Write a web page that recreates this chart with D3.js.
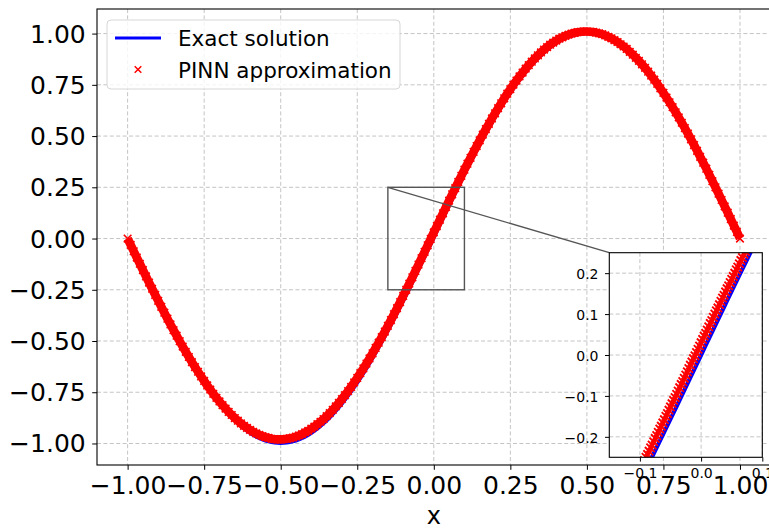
<!DOCTYPE html>
<html>
<head>
<meta charset="utf-8">
<script src="https://cdn.jsdelivr.net/npm/d3@7"></script>
<style>
  html, body { margin: 0; padding: 0; background: #ffffff; }
  svg { display: block; }
</style>
</head>
<body>
<div id="chart"></div>
<script>
// ---------------- DATA ----------------
const exactX = [-1,-0.98,-0.96,-0.94,-0.92,-0.9,-0.88,-0.86,-0.84,-0.82,-0.8,-0.78,-0.76,-0.74,-0.72,-0.7,-0.68,-0.66,-0.64,-0.62,-0.6,-0.58,-0.56,-0.54,-0.52,-0.5,-0.48,-0.46,-0.44,-0.42,-0.4,-0.38,-0.36,-0.34,-0.32,-0.3,-0.28,-0.26,-0.24,-0.22,-0.2,-0.18,-0.16,-0.14,-0.12,-0.1,-0.08,-0.06,-0.04,-0.02,0,0.02,0.04,0.06,0.08,0.1,0.12,0.14,0.16,0.18,0.2,0.22,0.24,0.26,0.28,0.3,0.32,0.34,0.36,0.38,0.4,0.42,0.44,0.46,0.48,0.5,0.52,0.54,0.56,0.58,0.6,0.62,0.64,0.66,0.68,0.7,0.72,0.74,0.76,0.78,0.8,0.82,0.84,0.86,0.88,0.9,0.92,0.94,0.96,0.98,1];
const exactY = [0,-0.0628,-0.1253,-0.1874,-0.2487,-0.3090,-0.3681,-0.4258,-0.4818,-0.5358,-0.5878,-0.6374,-0.6845,-0.7290,-0.7705,-0.8090,-0.8443,-0.8763,-0.9048,-0.9298,-0.9511,-0.9686,-0.9823,-0.9921,-0.9980,-1.0000,-0.9980,-0.9921,-0.9823,-0.9686,-0.9511,-0.9298,-0.9048,-0.8763,-0.8443,-0.8090,-0.7705,-0.7290,-0.6845,-0.6374,-0.5878,-0.5358,-0.4818,-0.4258,-0.3681,-0.3090,-0.2487,-0.1874,-0.1253,-0.0628,0,0.0628,0.1253,0.1874,0.2487,0.3090,0.3681,0.4258,0.4818,0.5358,0.5878,0.6374,0.6845,0.7290,0.7705,0.8090,0.8443,0.8763,0.9048,0.9298,0.9511,0.9686,0.9823,0.9921,0.9980,1.0000,0.9980,0.9921,0.9823,0.9686,0.9511,0.9298,0.9048,0.8763,0.8443,0.8090,0.7705,0.7290,0.6845,0.6374,0.5878,0.5358,0.4818,0.4258,0.3681,0.3090,0.2487,0.1874,0.1253,0.0628,0];

const pinnX = [-1,-0.99,-0.98,-0.97,-0.96,-0.95,-0.94,-0.93,-0.92,-0.91,-0.9,-0.89,-0.88,-0.87,-0.86,-0.85,-0.84,-0.83,-0.82,-0.81,-0.8,-0.79,-0.78,-0.77,-0.76,-0.75,-0.74,-0.73,-0.72,-0.71,-0.7,-0.69,-0.68,-0.67,-0.66,-0.65,-0.64,-0.63,-0.62,-0.61,-0.6,-0.59,-0.58,-0.57,-0.56,-0.55,-0.54,-0.53,-0.52,-0.51,-0.5,-0.49,-0.48,-0.47,-0.46,-0.45,-0.44,-0.43,-0.42,-0.41,-0.4,-0.39,-0.38,-0.37,-0.36,-0.35,-0.34,-0.33,-0.32,-0.31,-0.3,-0.29,-0.28,-0.27,-0.26,-0.25,-0.24,-0.23,-0.22,-0.21,-0.2,-0.19,-0.18,-0.17,-0.16,-0.15,-0.14,-0.13,-0.12,-0.11,-0.1,-0.09,-0.08,-0.07,-0.06,-0.05,-0.04,-0.03,-0.02,-0.01,0,0.01,0.02,0.03,0.04,0.05,0.06,0.07,0.08,0.09,0.1,0.11,0.12,0.13,0.14,0.15,0.16,0.17,0.18,0.19,0.2,0.21,0.22,0.23,0.24,0.25,0.26,0.27,0.28,0.29,0.3,0.31,0.32,0.33,0.34,0.35,0.36,0.37,0.38,0.39,0.4,0.41,0.42,0.43,0.44,0.45,0.46,0.47,0.48,0.49,0.5,0.51,0.52,0.53,0.54,0.55,0.56,0.57,0.58,0.59,0.6,0.61,0.62,0.63,0.64,0.65,0.66,0.67,0.68,0.69,0.7,0.71,0.72,0.73,0.74,0.75,0.76,0.77,0.78,0.79,0.8,0.81,0.82,0.83,0.84,0.85,0.86,0.87,0.88,0.89,0.9,0.91,0.92,0.93,0.94,0.95,0.96,0.97,0.98,0.99,1];
const pinnY = [0.000,-0.031,-0.062,-0.093,-0.123,-0.154,-0.185,-0.215,-0.245,-0.275,-0.304,-0.333,-0.362,-0.391,-0.419,-0.447,-0.474,-0.501,-0.527,-0.553,-0.578,-0.603,-0.627,-0.650,-0.673,-0.695,-0.717,-0.737,-0.758,-0.777,-0.795,-0.813,-0.830,-0.846,-0.861,-0.876,-0.889,-0.902,-0.914,-0.924,-0.934,-0.943,-0.951,-0.958,-0.964,-0.969,-0.973,-0.977,-0.979,-0.980,-0.980,-0.979,-0.977,-0.975,-0.971,-0.966,-0.961,-0.954,-0.946,-0.938,-0.928,-0.918,-0.906,-0.894,-0.881,-0.867,-0.852,-0.836,-0.819,-0.802,-0.783,-0.764,-0.744,-0.724,-0.702,-0.680,-0.657,-0.634,-0.610,-0.585,-0.560,-0.534,-0.508,-0.481,-0.454,-0.426,-0.398,-0.369,-0.340,-0.310,-0.280,-0.250,-0.220,-0.189,-0.158,-0.127,-0.096,-0.065,-0.033,-0.002,0.030,0.061,0.092,0.123,0.154,0.185,0.216,0.246,0.276,0.306,0.336,0.365,0.394,0.423,0.451,0.479,0.507,0.534,0.560,0.586,0.611,0.636,0.660,0.684,0.707,0.729,0.751,0.771,0.791,0.810,0.829,0.846,0.863,0.879,0.894,0.908,0.922,0.934,0.946,0.956,0.966,0.975,0.982,0.989,0.995,1.000,1.004,1.007,1.009,1.010,1.010,1.009,1.008,1.005,1.001,0.997,0.991,0.984,0.977,0.968,0.959,0.948,0.937,0.925,0.911,0.897,0.882,0.867,0.850,0.833,0.814,0.795,0.775,0.755,0.733,0.711,0.688,0.665,0.641,0.616,0.591,0.565,0.539,0.512,0.484,0.456,0.428,0.399,0.370,0.341,0.311,0.280,0.250,0.219,0.188,0.157,0.126,0.095,0.063,0.032,0.000];

// denser PINN samples read inside the zoomed window
const zoomPinnX = [-0.1,-0.0975,-0.095,-0.0925,-0.09,-0.0875,-0.085,-0.0825,-0.08,-0.0775,-0.075,-0.0725,-0.07,-0.0675,-0.065,-0.0625,-0.06,-0.0575,-0.055,-0.0525,-0.05,-0.0475,-0.045,-0.0425,-0.04,-0.0375,-0.035,-0.0325,-0.03,-0.0275,-0.025,-0.0225,-0.02,-0.0175,-0.015,-0.0125,-0.01,-0.0075,-0.005,-0.0025,0,0.0025,0.005,0.0075,0.01,0.0125,0.015,0.0175,0.02,0.0225,0.025,0.0275,0.03,0.0325,0.035,0.0375,0.04,0.0425,0.045,0.0475,0.05,0.0525,0.055,0.0575,0.06,0.0625,0.065,0.0675,0.07,0.0725,0.075,0.0775,0.08];
const zoomPinnY = [-0.280,-0.273,-0.265,-0.258,-0.250,-0.243,-0.235,-0.227,-0.220,-0.212,-0.204,-0.197,-0.189,-0.181,-0.174,-0.166,-0.158,-0.150,-0.143,-0.135,-0.127,-0.119,-0.111,-0.104,-0.096,-0.088,-0.080,-0.072,-0.065,-0.057,-0.049,-0.041,-0.033,-0.025,-0.017,-0.009,-0.002,0.006,0.014,0.022,0.030,0.038,0.046,0.053,0.061,0.069,0.077,0.084,0.092,0.100,0.108,0.115,0.123,0.131,0.139,0.146,0.154,0.162,0.169,0.177,0.185,0.192,0.200,0.208,0.215,0.223,0.231,0.238,0.246,0.253,0.261,0.269,0.276];

const xTicks = [-1, -0.75, -0.5, -0.25, 0, 0.25, 0.5, 0.75, 1];
const xTickLabels = ["\u22121.00","\u22120.75","\u22120.50","\u22120.25","0.00","0.25","0.50","0.75","1.00"];
const yTicks = [-1, -0.75, -0.5, -0.25, 0, 0.25, 0.5, 0.75, 1];
const yTickLabels = ["\u22121.00","\u22120.75","\u22120.50","\u22120.25","0.00","0.25","0.50","0.75","1.00"];
const insetXLim = [-0.15, 0.1];
const insetYLim = [-0.25, 0.25];
const insetXTicks = [-0.1, 0, 0.1];
const insetXTickLabels = ["\u22120.1","0.0","0.1"];
const insetYTicks = [-0.2, -0.1, 0, 0.1, 0.2];
const insetYTickLabels = ["\u22120.2","\u22120.1","0.0","0.1","0.2"];
const xAxisTitle = "x";
const legendLabels = ["Exact solution", "PINN approximation"];

// ---------------- LAYOUT ----------------
const W = 769, H = 529;
const FONT = "'DejaVu Sans', 'Liberation Sans', sans-serif";
const BLUE = "#0000ff", RED = "#ff0000";
const GRID = "#c4c4c4";
const TICK_FS = 25;

const svg = d3.select("#chart").append("svg")
  .attr("width", W).attr("height", H)
  .style("font-family", FONT);

const P = { left: 97, right: 770.6, top: 9, bottom: 465 };
const x = d3.scaleLinear().domain([-1.1, 1.1]).range([P.left, P.right]);
const y = d3.scaleLinear().domain([-1.105, 1.12]).range([P.bottom, P.top]);

const exactData = exactX.map((v, i) => ({ x: v, y: exactY[i] }));
const pinnData = pinnX.map((v, i) => ({ x: v, y: pinnY[i] }));
const zoomData = zoomPinnX.map((v, i) => ({ x: v, y: zoomPinnY[i] }));

const defs = svg.append("defs");
defs.append("clipPath").attr("id", "mainClip").append("rect")
  .attr("x", P.left).attr("y", P.top)
  .attr("width", P.right - P.left).attr("height", P.bottom - P.top);

const xMark = s => `M${-s},${-s}L${s},${s}M${-s},${s}L${s},${-s}`;

// ---- main grid
const gGrid = svg.append("g");
gGrid.selectAll("line.gx").data(xTicks).join("line")
  .attr("x1", d => x(d)).attr("x2", d => x(d))
  .attr("y1", P.top).attr("y2", P.bottom)
  .attr("stroke", GRID).attr("stroke-width", 1).attr("stroke-dasharray", "4,2.4");
gGrid.selectAll("line.gy").data(yTicks).join("line")
  .attr("x1", P.left).attr("x2", P.right)
  .attr("y1", d => y(d)).attr("y2", d => y(d))
  .attr("stroke", GRID).attr("stroke-width", 1).attr("stroke-dasharray", "4,2.4");

// ---- main curves
const gPlot = svg.append("g").attr("clip-path", "url(#mainClip)");
const lineMain = d3.line().x(d => x(d.x)).y(d => y(d.y)).curve(d3.curveMonotoneX);
gPlot.append("path").datum(exactData)
  .attr("d", lineMain).attr("fill", "none")
  .attr("stroke", BLUE).attr("stroke-width", 3);

const lineLin = d3.line().x(d => x(d.x)).y(d => y(d.y));
gPlot.append("path").datum(pinnData)
  .attr("d", lineLin).attr("fill", "none")
  .attr("stroke", RED).attr("stroke-width", 8.6).attr("stroke-linejoin", "round");
gPlot.selectAll("path.pm").data(pinnData).join("path")
  .attr("class", "pm")
  .attr("transform", d => `translate(${x(d.x)},${y(d.y)})`)
  .attr("d", xMark(3.8))
  .attr("stroke", RED).attr("stroke-width", 1.6).attr("fill", "none");

// ---- main axes
const xAxis = d3.axisBottom(x).tickValues(xTicks)
  .tickFormat((d, i) => xTickLabels[i]).tickSize(4.8).tickSizeOuter(0).tickPadding(6);
const gx = svg.append("g").attr("transform", `translate(0,${P.bottom})`).call(xAxis);
gx.select(".domain").remove();
gx.selectAll("text").attr("font-size", TICK_FS).attr("fill", "#000").attr("font-family", FONT);
gx.selectAll("line").attr("stroke", "#000").attr("stroke-width", 1);

const yAxis = d3.axisLeft(y).tickValues(yTicks)
  .tickFormat((d, i) => yTickLabels[i]).tickSize(4.8).tickSizeOuter(0).tickPadding(6.5);
const gy = svg.append("g").attr("transform", `translate(${P.left},0)`).call(yAxis);
gy.select(".domain").remove();
gy.selectAll("text").attr("font-size", TICK_FS).attr("fill", "#000").attr("font-family", FONT).attr("dy", "0.34em");
gy.selectAll("line").attr("stroke", "#000").attr("stroke-width", 1);

svg.append("rect")
  .attr("x", P.left).attr("y", P.top)
  .attr("width", P.right - P.left).attr("height", P.bottom - P.top)
  .attr("fill", "none").attr("stroke", "#000").attr("stroke-width", 1.1);

svg.append("text")
  .attr("x", x(0)).attr("y", 524)
  .attr("text-anchor", "middle").attr("font-size", 24).attr("fill", "#000")
  .text(xAxisTitle);

// ---- legend
const gL = svg.append("g");
gL.append("rect").attr("x", 107).attr("y", 20).attr("width", 293).attr("height", 69)
  .attr("rx", 4).attr("fill", "#fff").attr("fill-opacity", 0.8)
  .attr("stroke", "#d6d6d6").attr("stroke-width", 1);
gL.append("line").attr("x1", 115).attr("x2", 161).attr("y1", 38).attr("y2", 38)
  .attr("stroke", BLUE).attr("stroke-width", 2.8);
gL.append("path").attr("transform", "translate(138,69.5)").attr("d", xMark(3.3))
  .attr("stroke", RED).attr("stroke-width", 1.5).attr("fill", "none");
gL.append("text").attr("x", 178).attr("y", 45.5).attr("font-size", 21.5).attr("fill", "#000").text(legendLabels[0]);
gL.append("text").attr("x", 178).attr("y", 77.5).attr("font-size", 21.5).attr("fill", "#000").text(legendLabels[1]);

// ---- inset
const I = { left: 609.3, right: 762.3, top: 252.7, bottom: 457.3 };
const xi = d3.scaleLinear().domain(insetXLim).range([I.left, I.right]);
const yi = d3.scaleLinear().domain(insetYLim).range([I.bottom, I.top]);

// indicator rectangle + connector
svg.append("rect")
  .attr("x", x(insetXLim[0])).attr("y", y(insetYLim[1]))
  .attr("width", x(insetXLim[1]) - x(insetXLim[0]))
  .attr("height", y(insetYLim[0]) - y(insetYLim[1]))
  .attr("fill", "none").attr("stroke", "#555").attr("stroke-width", 1.4);
svg.append("line")
  .attr("x1", x(insetXLim[0])).attr("y1", y(insetYLim[1]))
  .attr("x2", I.left).attr("y2", I.top)
  .attr("stroke", "#555").attr("stroke-width", 1.4);

defs.append("clipPath").attr("id", "insetClip").append("rect")
  .attr("x", I.left).attr("y", I.top)
  .attr("width", I.right - I.left).attr("height", I.bottom - I.top);

const gI = svg.append("g");
gI.append("rect").attr("x", I.left).attr("y", I.top)
  .attr("width", I.right - I.left).attr("height", I.bottom - I.top)
  .attr("fill", "#fff");
gI.selectAll("line.igx").data(insetXTicks).join("line")
  .attr("x1", d => xi(d)).attr("x2", d => xi(d))
  .attr("y1", I.top).attr("y2", I.bottom)
  .attr("stroke", GRID).attr("stroke-width", 1).attr("stroke-dasharray", "4,2.4");
gI.selectAll("line.igy").data(insetYTicks).join("line")
  .attr("x1", I.left).attr("x2", I.right)
  .attr("y1", d => yi(d)).attr("y2", d => yi(d))
  .attr("stroke", GRID).attr("stroke-width", 1).attr("stroke-dasharray", "4,2.4");

const gIP = gI.append("g").attr("clip-path", "url(#insetClip)");
const lineInset = d3.line().x(d => xi(d.x)).y(d => yi(d.y)).curve(d3.curveMonotoneX);
gIP.append("path").datum(exactData)
  .attr("d", lineInset).attr("fill", "none")
  .attr("stroke", BLUE).attr("stroke-width", 4.2);
gIP.selectAll("path.zm").data(zoomData).join("path")
  .attr("class", "zm")
  .attr("transform", d => `translate(${xi(d.x)},${yi(d.y)})`)
  .attr("d", xMark(4.2))
  .attr("stroke", RED).attr("stroke-width", 1.9).attr("fill", "none");

gI.append("rect").attr("x", I.left).attr("y", I.top)
  .attr("width", I.right - I.left).attr("height", I.bottom - I.top)
  .attr("fill", "none").attr("stroke", "#000").attr("stroke-width", 1.1);

const xiAxis = d3.axisBottom(xi).tickValues(insetXTicks)
  .tickFormat((d, i) => insetXTickLabels[i]).tickSize(4.3).tickSizeOuter(0).tickPadding(6.5);
const gxi = gI.append("g").attr("transform", `translate(0,${I.bottom})`).call(xiAxis);
gxi.select(".domain").remove();
gxi.selectAll("text").attr("font-size", 14).attr("fill", "#000").attr("font-family", FONT);
gxi.selectAll("line").attr("stroke", "#000").attr("stroke-width", 1);

const yiAxis = d3.axisLeft(yi).tickValues(insetYTicks)
  .tickFormat((d, i) => insetYTickLabels[i]).tickSize(4.3).tickSizeOuter(0).tickPadding(6.5);
const gyi = gI.append("g").attr("transform", `translate(${I.left},0)`).call(yiAxis);
gyi.select(".domain").remove();
gyi.selectAll("text").attr("font-size", 14).attr("fill", "#000").attr("font-family", FONT).attr("dy", "0.38em");
gyi.selectAll("line").attr("stroke", "#000").attr("stroke-width", 1);
</script>
</body>
</html>
